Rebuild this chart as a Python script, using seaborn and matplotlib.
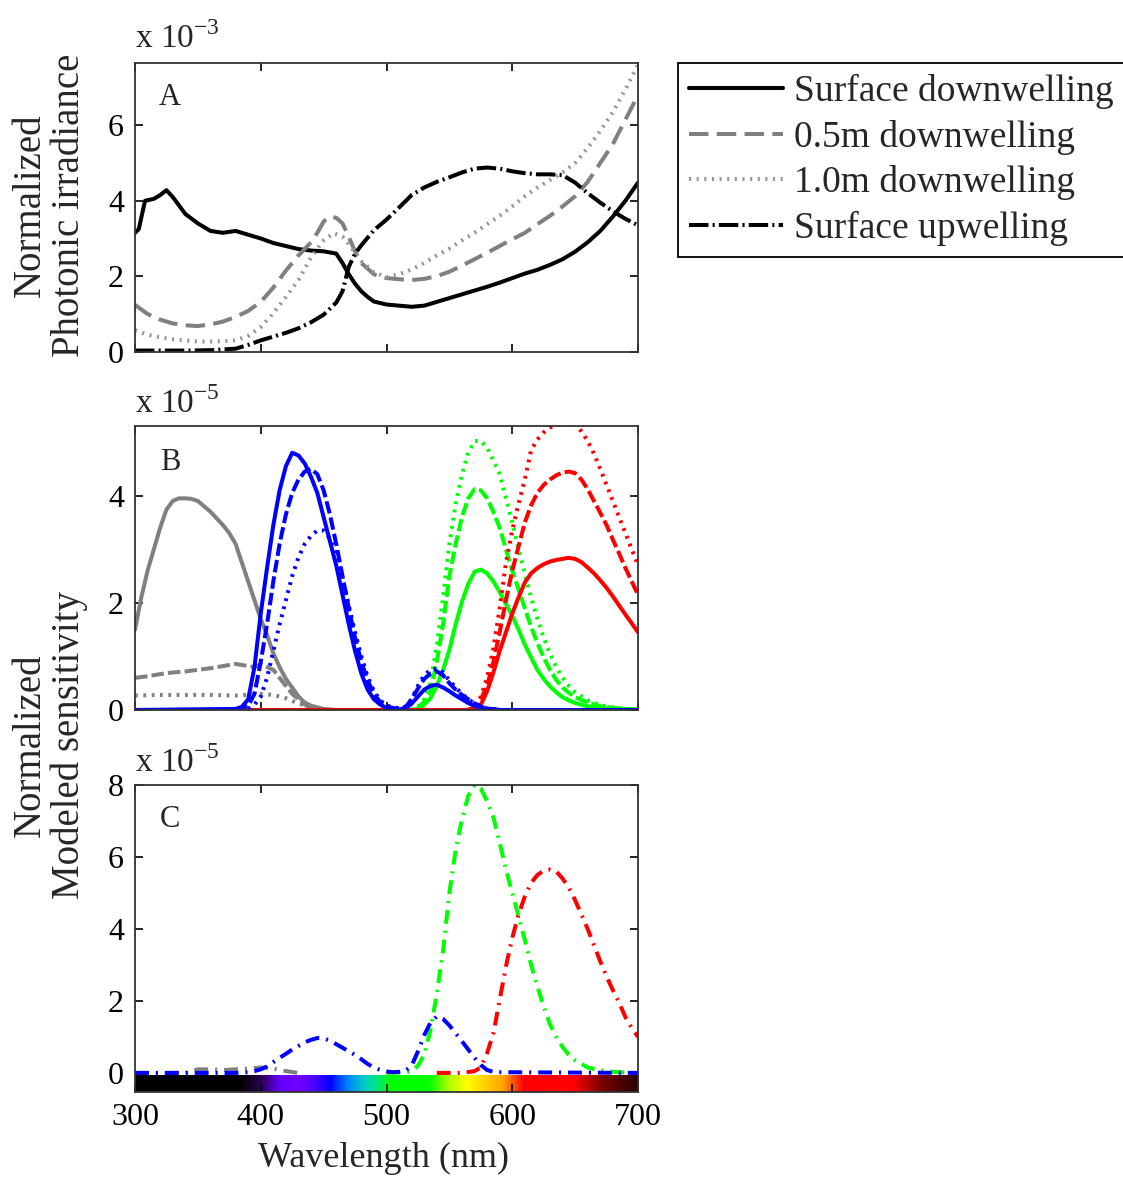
import numpy as np
import matplotlib
matplotlib.use("Agg")
import matplotlib.pyplot as plt
from matplotlib.colors import LinearSegmentedColormap
import seaborn as sns

# ---------------- data ----------------
# Panel A (x 1e-3)
a_down_wl = [300, 303, 308, 315, 320, 325, 330, 340, 350, 360, 370, 380, 390, 400, 410, 420, 430, 440, 450,
             460, 465, 470, 475, 480, 485, 490, 500, 510, 520, 530, 540, 550, 560, 570, 580, 590, 600,
             610, 620, 630, 640, 650, 660, 670, 680, 690, 700]
a_down = [3.15, 3.25, 4.0, 4.05, 4.15, 4.28, 4.1, 3.65, 3.4, 3.2, 3.15, 3.2, 3.1, 3.0, 2.88, 2.8, 2.72, 2.68, 2.66,
          2.6, 2.35, 2.05, 1.8, 1.6, 1.45, 1.33, 1.25, 1.22, 1.19, 1.22, 1.32, 1.42, 1.52, 1.62, 1.72, 1.83, 1.95,
          2.07, 2.17, 2.3, 2.45, 2.65, 2.9, 3.2, 3.58, 4.0, 4.48]

a_05_wl = [300, 310, 320, 330, 340, 350, 360, 370, 380, 390, 400, 410, 420, 430, 440, 445, 450, 455, 460, 465,
           470, 475, 480, 490, 500, 510, 520, 530, 540, 550, 560, 570, 580, 590, 600, 610, 620, 630, 640,
           650, 660, 670, 680, 690, 700]
a_05 = [1.24, 1.0, 0.85, 0.75, 0.7, 0.68, 0.72, 0.8, 0.92, 1.08, 1.32, 1.7, 2.15, 2.55, 2.9, 3.15, 3.45, 3.58, 3.55,
        3.4, 3.05, 2.65, 2.35, 2.05, 1.95, 1.92, 1.9, 1.93, 2.0, 2.12, 2.28, 2.45, 2.62, 2.8, 2.98, 3.15, 3.38,
        3.6, 3.85, 4.12, 4.5, 5.0, 5.5, 6.15, 6.8]

a_10_wl = [300, 310, 320, 330, 340, 350, 360, 370, 380, 390, 400, 410, 420, 430, 440, 450, 458, 465, 470, 480,
           490, 500, 510, 520, 530, 540, 550, 560, 570, 580, 590, 600, 610, 620, 630, 640, 650, 660, 670,
           680, 690, 700]
a_10 = [0.57, 0.45, 0.38, 0.33, 0.3, 0.27, 0.27, 0.28, 0.3, 0.42, 0.65, 1.02, 1.45, 1.9, 2.5, 2.95, 3.14, 3.05,
        2.85, 2.4, 2.1, 1.98, 2.05, 2.18, 2.35, 2.55, 2.73, 2.95, 3.15, 3.38, 3.6, 3.85, 4.12, 4.35, 4.55, 4.75,
        5.0, 5.4, 5.85, 6.35, 6.95, 7.6]

a_up_wl = [300, 320, 340, 360, 380, 390, 400, 410, 420, 430, 440, 450, 460, 465, 470, 475, 480, 490, 500, 510,
           520, 530, 540, 550, 560, 570, 580, 590, 600, 610, 620, 630, 640, 650, 660, 670, 680, 690, 700]
a_up = [0.03, 0.03, 0.03, 0.04, 0.08, 0.18, 0.3, 0.4, 0.5, 0.62, 0.78, 0.98, 1.3, 1.6, 2.25, 2.6, 2.82, 3.22, 3.5,
        3.82, 4.15, 4.35, 4.5, 4.62, 4.75, 4.85, 4.88, 4.85, 4.78, 4.73, 4.7, 4.7, 4.68, 4.48, 4.2, 3.95, 3.72,
        3.52, 3.35]

legend_labels = ["Surface downwelling", "0.5m downwelling", "1.0m downwelling", "Surface upwelling"]

# Panel B (x 1e-5)
b_uv_s_wl = [300, 305, 310, 315, 320, 325, 330, 335, 340, 345, 350, 360, 370, 375, 380, 385, 390, 395, 400, 405,
             410, 415, 420, 425, 430, 435, 440, 450, 460, 480]
b_uv_s = [1.5, 2.1, 2.6, 3.0, 3.4, 3.74, 3.9, 3.95, 3.95, 3.94, 3.9, 3.7, 3.45, 3.3, 3.1, 2.75, 2.4, 2.05, 1.7, 1.4,
          1.06, 0.8, 0.58, 0.42, 0.25, 0.14, 0.08, 0.02, 0.0, 0.0]
b_uv_05_wl = [300, 310, 320, 330, 340, 350, 360, 370, 380, 390, 395, 400, 410, 415, 420, 425, 430, 435, 440, 450]
b_uv_05 = [0.6, 0.63, 0.67, 0.7, 0.72, 0.75, 0.78, 0.82, 0.86, 0.82, 0.8, 0.85, 0.75, 0.6, 0.45, 0.3, 0.2, 0.1,
           0.04, 0.0]
b_uv_10_wl = [300, 320, 340, 360, 380, 400, 410, 420, 430, 440, 450]
b_uv_10 = [0.27, 0.28, 0.28, 0.28, 0.27, 0.3, 0.28, 0.22, 0.12, 0.05, 0.0]

b_b_s_wl = [300, 380, 385, 390, 395, 400, 405, 410, 415, 420, 425, 430, 435, 440, 445, 450, 455, 460, 465, 470,
            475, 480, 485, 490, 495, 500, 505, 510, 515, 520, 525, 530, 535, 540, 545, 550, 555, 560, 565, 570,
            575, 580, 590, 700]
b_b_s = [0.0, 0.02, 0.06, 0.2, 0.8, 1.8, 2.65, 3.45, 4.1, 4.55, 4.8, 4.75, 4.6, 4.35, 4.05, 3.6, 3.15, 2.7, 2.15,
         1.6, 1.1, 0.68, 0.38, 0.2, 0.1, 0.04, 0.01, 0.01, 0.03, 0.12, 0.25, 0.38, 0.45, 0.47, 0.42, 0.35, 0.27,
         0.2, 0.13, 0.08, 0.04, 0.02, 0.0, 0.0]
b_b_05_wl = [380, 390, 395, 400, 405, 410, 415, 420, 425, 430, 435, 440, 445, 450, 455, 460, 465, 470, 475, 480,
             485, 490, 495, 500, 510, 515, 520, 525, 530, 535, 540, 545, 550, 555, 560, 565, 570, 575, 580, 590]
b_b_05 = [0.0, 0.08, 0.3, 0.9, 1.6, 2.4, 3.1, 3.65, 4.05, 4.3, 4.45, 4.5, 4.4, 4.1, 3.65, 3.1, 2.5, 1.9, 1.35, 0.9,
          0.55, 0.3, 0.15, 0.06, 0.02, 0.05, 0.2, 0.4, 0.58, 0.68, 0.72, 0.65, 0.5, 0.38, 0.28, 0.2, 0.12, 0.06,
          0.03, 0.0]
b_b_10_wl = [390, 395, 400, 405, 410, 415, 420, 425, 430, 435, 440, 445, 450, 455, 460, 465, 470, 475, 480, 485,
             490, 495, 500, 510, 515, 520, 525, 530, 535, 540, 545, 550, 555, 560, 565, 570, 575, 580, 590]
b_b_10 = [0.02, 0.1, 0.25, 0.6, 1.1, 1.6, 2.05, 2.5, 2.85, 3.1, 3.25, 3.35, 3.35, 3.2, 2.9, 2.45, 1.95, 1.45, 1.0,
          0.62, 0.35, 0.18, 0.08, 0.03, 0.06, 0.2, 0.45, 0.65, 0.75, 0.78, 0.7, 0.55, 0.42, 0.3, 0.2, 0.12, 0.07,
          0.03, 0.0]

b_g_wl = [300, 520, 525, 530, 535, 540, 545, 550, 555, 560, 565, 570, 575, 580, 585, 590, 595, 600, 605, 610,
          615, 620, 625, 630, 635, 640, 645, 650, 660, 670, 680, 690, 700]
b_g_s = [0.0, 0.0, 0.02, 0.1, 0.22, 0.45, 0.75, 1.12, 1.6, 2.02, 2.35, 2.58, 2.62, 2.55, 2.4, 2.2, 1.98, 1.76, 1.5,
         1.22, 0.98, 0.75, 0.58, 0.44, 0.33, 0.24, 0.18, 0.13, 0.07, 0.04, 0.02, 0.01, 0.0]
b_g_05 = [0.0, 0.0, 0.05, 0.15, 0.35, 0.9, 1.6, 2.5, 3.1, 3.6, 3.95, 4.12, 4.1, 3.95, 3.7, 3.4, 3.0, 2.6, 2.25,
          1.9, 1.55, 1.25, 0.98, 0.75, 0.56, 0.42, 0.32, 0.24, 0.14, 0.07, 0.04, 0.02, 0.01]
b_g_10 = [0.0, 0.0, 0.06, 0.2, 0.5, 1.2, 2.1, 3.1, 3.85, 4.4, 4.8, 5.02, 5.02, 4.9, 4.65, 4.4, 3.95, 3.5, 3.0,
          2.55, 2.1, 1.7, 1.35, 1.05, 0.8, 0.6, 0.45, 0.33, 0.18, 0.09, 0.05, 0.02, 0.01]

b_r_wl = [300, 565, 570, 575, 580, 585, 590, 595, 600, 605, 610, 615, 620, 625, 630, 635, 640, 645, 650, 655,
          660, 665, 670, 675, 680, 685, 690, 695, 700]
b_r_s = [0.0, 0.0, 0.02, 0.1, 0.35, 0.7, 1.1, 1.45, 1.8, 2.1, 2.38, 2.55, 2.65, 2.72, 2.77, 2.8, 2.82, 2.84, 2.82,
         2.76, 2.66, 2.55, 2.42, 2.28, 2.12, 1.95, 1.78, 1.62, 1.45]
b_r_05 = [0.0, 0.0, 0.05, 0.2, 0.45, 0.9, 1.45, 2.05, 2.6, 3.05, 3.5, 3.82, 4.05, 4.2, 4.3, 4.38, 4.43, 4.45,
          4.42, 4.3, 4.12, 3.9, 3.68, 3.45, 3.18, 2.92, 2.65, 2.4, 2.15]
b_r_10 = [0.0, 0.0, 0.06, 0.25, 0.6, 1.15, 1.9, 2.75, 3.35, 3.85, 4.3, 4.85, 5.05, 5.18, 5.27, 5.32, 5.35, 5.36,
          5.32, 5.2, 5.02, 4.78, 4.5, 4.2, 3.9, 3.6, 3.3, 3.0, 2.7]

# Panel C (x 1e-5)
c_uv_wl = [300, 340, 350, 360, 370, 380, 390, 400, 410, 420, 430]
c_uv = [0.0, 0.0, 0.1, 0.1, 0.08, 0.1, 0.12, 0.15, 0.12, 0.05, 0.0]
c_b_wl = [300, 380, 390, 395, 400, 405, 410, 415, 420, 425, 430, 435, 440, 445, 450, 455, 460, 465, 470, 475,
          480, 485, 490, 495, 500, 505, 510, 515, 520, 525, 530, 535, 540, 545, 550, 555, 560, 565, 570, 575,
          580, 585, 590, 700]
c_b = [0.0, 0.0, 0.02, 0.05, 0.1, 0.18, 0.3, 0.42, 0.53, 0.65, 0.75, 0.85, 0.92, 0.97, 0.96, 0.9, 0.8, 0.7, 0.6,
       0.5, 0.38, 0.25, 0.15, 0.08, 0.04, 0.02, 0.03, 0.06, 0.2, 0.6, 1.05, 1.4, 1.57, 1.5, 1.32, 1.1, 0.88, 0.65,
       0.42, 0.22, 0.08, 0.03, 0.02, 0.0]
c_g_wl = [500, 515, 520, 525, 530, 535, 540, 545, 550, 555, 560, 565, 570, 575, 580, 585, 590, 595, 600, 605,
          610, 615, 620, 625, 630, 635, 640, 645, 650, 660, 670, 680, 700]
c_g = [0.0, 0.02, 0.05, 0.2, 0.5, 1.2, 2.2, 3.4, 5.0, 6.2, 7.05, 7.7, 8.0, 7.9, 7.55, 7.1, 6.4, 5.65, 5.0, 4.35,
       3.7, 3.0, 2.4, 1.85, 1.35, 1.0, 0.72, 0.5, 0.35, 0.15, 0.07, 0.03, 0.0]
c_r_wl = [540, 560, 570, 575, 580, 585, 590, 595, 600, 605, 610, 615, 620, 625, 630, 635, 640, 645, 650, 655,
          660, 665, 670, 675, 680, 685, 690, 695, 700]
c_r = [0.0, 0.0, 0.05, 0.15, 0.55, 1.1, 2.03, 2.96, 3.75, 4.4, 4.9, 5.28, 5.5, 5.62, 5.65, 5.6, 5.4, 5.15, 4.8,
       4.4, 4.0, 3.55, 3.1, 2.68, 2.3, 1.95, 1.55, 1.25, 1.0]

xticks = [300, 400, 500, 600, 700]
yticks_a = [0, 2, 4, 6]
yticks_b = [0, 2, 4]
yticks_c = [0, 2, 4, 6, 8]

# spectrum colour stops (wavelength, rgb) for the colour strip
spec_stops = [(300, (0, 0, 0)), (383, (0, 0, 0)), (399, (0.16, 0, 0.31)), (415, (0.4, 0, 1.0)),
              (430, (0.45, 0, 1.0)), (442, (0.3, 0, 1.0)), (455, (0, 0, 1.0)), (468, (0, 0.5, 1.0)),
              (481, (0, 0.78, 0.8)), (492, (0, 0.9, 0.5)), (503, (0, 1, 0)), (534, (0, 1, 0)),
              (550, (0.7, 1, 0)), (564, (1, 1, 0)), (593, (1, 0.63, 0)), (609, (1, 0, 0)), (649, (1, 0, 0)),
              (672, (0.47, 0, 0)), (700, (0.16, 0, 0))]

# ---------------- style ----------------
sns.set_theme(style="ticks")
plt.rcParams["font.family"] = ["Liberation Serif", "DejaVu Serif"]
plt.rcParams["mathtext.fontset"] = "custom"
plt.rcParams["mathtext.rm"] = "Liberation Serif"
plt.rcParams["lines.scale_dashes"] = False
plt.rcParams["axes.edgecolor"] = "#333333"

GRAY = "#808080"
GRAY_L = "#959595"
BLUE, GREEN, RED = "#0000ff", "#00ff00", "#ff0000"

LS_DASH_A = (0, (14, 6))
LS_DOT_A = (0, (1.5, 4))
LS_DASHDOT_A = (0, (14, 3, 1.5, 3))
LS_DASH_B = (0, (9, 3))
LS_DOT_B = (0, (2, 4))
LS_DASHDOT_C = (0, (10, 5, 1.5, 5))
LW = 2.9

W, H = 1123, 1177
fig = plt.figure(figsize=(W / 100, H / 100), dpi=100)

def ax_at(left, top, right, bottom):
    return fig.add_axes([left / W, 1 - bottom / H, (right - left) / W, (bottom - top) / H])

axA = ax_at(135, 63, 638, 351.7)
axB = ax_at(135, 426, 638, 710)
axC = ax_at(135, 785, 638, 1092)

def line(ax, x, y, color, ls="-", lw=LW, label=None):
    sns.lineplot(x=x, y=y, ax=ax, color=color, linestyle=ls, linewidth=lw, label=label,
                 legend=False, sort=False)

# Panel A
line(axA, a_down_wl, a_down, "black", "-", label=legend_labels[0])
line(axA, a_05_wl, a_05, GRAY, LS_DASH_A, label=legend_labels[1])
line(axA, a_10_wl, a_10, GRAY_L, LS_DOT_A, label=legend_labels[2])
line(axA, a_up_wl, a_up, "black", LS_DASHDOT_A, label=legend_labels[3])
axA.set_ylim(0, 7.65)
axA.set_yticks(yticks_a)

# Panel B
line(axB, b_uv_s_wl, b_uv_s, GRAY, "-")
line(axB, b_uv_05_wl, b_uv_05, GRAY, LS_DASH_B)
line(axB, b_uv_10_wl, b_uv_10, GRAY, LS_DOT_B)
line(axB, b_g_wl, b_g_s, GREEN, "-")
line(axB, b_g_wl, b_g_05, GREEN, LS_DASH_B)
line(axB, b_g_wl, b_g_10, GREEN, LS_DOT_B)
line(axB, b_r_wl, b_r_s, RED, "-")
line(axB, b_r_wl, b_r_05, RED, LS_DASH_B)
line(axB, b_r_wl, b_r_10, RED, LS_DOT_B)
line(axB, b_b_s_wl, b_b_s, BLUE, "-")
line(axB, b_b_05_wl, b_b_05, BLUE, LS_DASH_B)
line(axB, b_b_10_wl, b_b_10, BLUE, LS_DOT_B)
axB.set_ylim(0, 5.3)
axB.set_yticks(yticks_b)

# Panel C
cmap = LinearSegmentedColormap.from_list(
    "spec", [((w - 300) / 400, c) for w, c in spec_stops])
axC.imshow(np.linspace(300, 700, 801)[None, :], cmap=cmap, vmin=300, vmax=700,
           extent=[300, 700, -0.53, -0.07], aspect="auto", interpolation="bilinear", zorder=0)
line(axC, c_uv_wl, c_uv, GRAY, LS_DASHDOT_C)
line(axC, c_g_wl, c_g, GREEN, LS_DASHDOT_C)
line(axC, c_r_wl, c_r, RED, LS_DASHDOT_C)
line(axC, c_b_wl, c_b, BLUE, LS_DASHDOT_C)
axC.set_ylim(-0.53, 8)
axC.set_yticks(yticks_c)

for ax in (axA, axB, axC):
    ax.set_xlim(300, 700)
    ax.set_xticks(xticks)
    ax.set_xlabel("")
    ax.set_ylabel("")
    ax.tick_params(direction="in", length=6, width=1.2, top=True, right=True,
                   labelsize=23, pad=8, colors="black")
    for s in ax.spines.values():
        s.set_linewidth(1.3)
        s.set_color("#333333")
        s.set_visible(True)
    ax.set_zorder(1)
axA.tick_params(labelbottom=False)
axB.tick_params(labelbottom=False)

for ax, letter, ty in ((axA, "A", 0.881), (axB, "B", 0.873), (axC, "C", 0.886)):
    ax.text(0.07, ty, letter, transform=ax.transAxes, fontsize=22, ha="center", va="center")

# exponent labels
for txt, yb in ((r"x 10$^{\mathregular{-3}}$", 48), (r"x 10$^{\mathregular{-5}}$", 413),
                (r"x 10$^{\mathregular{-5}}$", 772)):
    fig.text(135 / W, 1 - yb / H, txt, fontsize=24, ha="left", va="baseline")

fig.text(50 / W, 1 - 205 / H, "Normalized\nPhotonic irradiance", rotation=90, fontsize=28,
         ha="center", va="center", multialignment="center", linespacing=1.05)
fig.text(50 / W, 1 - 745 / H, "Normalized\nModeled sensitivity", rotation=90, fontsize=28,
         ha="center", va="center", multialignment="center", linespacing=1.05)
fig.text(383 / W, 1 - 1158 / H, "Wavelength (nm)", fontsize=26, ha="center", va="center")

handles, labels = axA.get_legend_handles_labels()
leg = fig.legend(handles, labels, loc="upper left", bbox_to_anchor=(678 / W, 1 - 63 / H),
                 frameon=True, fancybox=False, edgecolor="black", framealpha=1, borderaxespad=0,
                 handlelength=2.5, handletextpad=0.3, labelspacing=0.28, borderpad=0.3, fontsize=27)
leg.get_frame().set_linewidth(1.3)

fig.savefig("out.png", dpi=100)
